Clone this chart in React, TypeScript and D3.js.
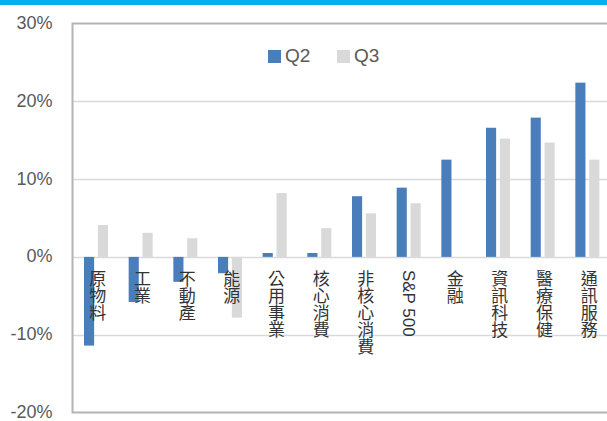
import React from "react";
import * as d3 from "d3";

const categories = ["原物料", "工業", "不動產", "能源", "公用事業", "核心消費", "非核心消費", "S&P 500", "金融", "資訊科技", "醫療保健", "通訊服務"];
const seriesNames = ["Q2", "Q3"];
const q2Values = [-11.4, -5.8, -3.2, -2.1, 0.5, 0.5, 7.8, 8.9, 12.5, 16.6, 17.9, 22.4];
const q3Values = [4.1, 3.1, 2.4, -7.8, 8.2, 3.7, 5.6, 6.9, 0, 15.2, 14.7, 12.5];
const yTicks = [-20, -10, 0, 10, 20, 30];

const W = 607;
const H = 421;
const colors = ["#4A7EBB", "#D9D9D9"];

export default function App() {
  const left = 72.5;
  const right = 608.5;
  const top = 23.5;
  const bottom = 412.5;
  const y = d3.scaleLinear().domain([-20, 30]).range([bottom, top]);
  const x0 = d3.scaleBand<string>().domain(categories).range([left, right]).padding(0);
  const bw = x0.bandwidth();
  const x1 = d3.scaleBand<string>().domain(seriesNames).range([11.5, 35.5]).paddingInner(0.27);
  const data = [q2Values, q3Values];
  const fmt = (v: number) => `${v}%`;

  return (
    <div style={{ position: "absolute", left: 0, top: 0 }}>
      <svg width={W} height={H} style={{ display: "block", background: "#fff" }}>
        <rect x={0} y={0} width={W} height={5} fill="#00B0F0" />
        {/* gridlines */}
        {yTicks.filter((t) => t > -20 && t < 30).map((t) => (
          <line key={t} x1={left} x2={W} y1={Math.round(y(t)) + 0.5} y2={Math.round(y(t)) + 0.5} stroke="#D9D9D9" strokeWidth={1.5} />
        ))}
        {/* plot border */}
        <path d={`M${W + 5},${top} H${left} V${bottom} H${W + 5}`} fill="none" stroke="#B3B3B3" strokeWidth={2} />
        {/* tick labels */}
        {yTicks.map((t) => (
          <text key={t} x={52.5} y={y(t)} dy="0.3em" textAnchor="end" fontSize={18} fill="#595959" fontFamily="'Liberation Sans', Arial, sans-serif">
            {fmt(t)}
          </text>
        ))}
        {/* bars */}
        {data.map((vals, si) =>
          vals.map((v, i) => {
            const c = categories[i];
            const xx = (x0(c) as number) + (x1(seriesNames[si]) as number);
            const y0 = y(0);
            const yv = y(v);
            return (
              <rect key={`${si}-${i}`} x={xx} y={Math.min(y0, yv)} width={x1.bandwidth()} height={Math.abs(yv - y0)} fill={colors[si]} />
            );
          })
        )}
        {/* category labels */}
        {categories.map((c) => (
          <text
            key={c}
            x={(x0(c) as number) + bw / 2 + 1}
            y={y(0) + 13}
            textAnchor="start"
            fontSize={17}
            fill="#333"
            fontFamily="'Liberation Sans', 'Noto Sans CJK TC', sans-serif"
            style={{ writingMode: "vertical-rl" } as any}
          >
            {c}
          </text>
        ))}
        {/* legend */}
        {seriesNames.map((s, i) => (
          <g key={s} transform={`translate(${268 + i * 69},0)`}>
            <rect x={0} y={50} width={13} height={13} fill={colors[i]} />
            <text x={17} y={62} fontSize={19} fill="#595959" fontFamily="'Liberation Sans', Arial, sans-serif">{s}</text>
          </g>
        ))}
      </svg>
    </div>
  );
}
